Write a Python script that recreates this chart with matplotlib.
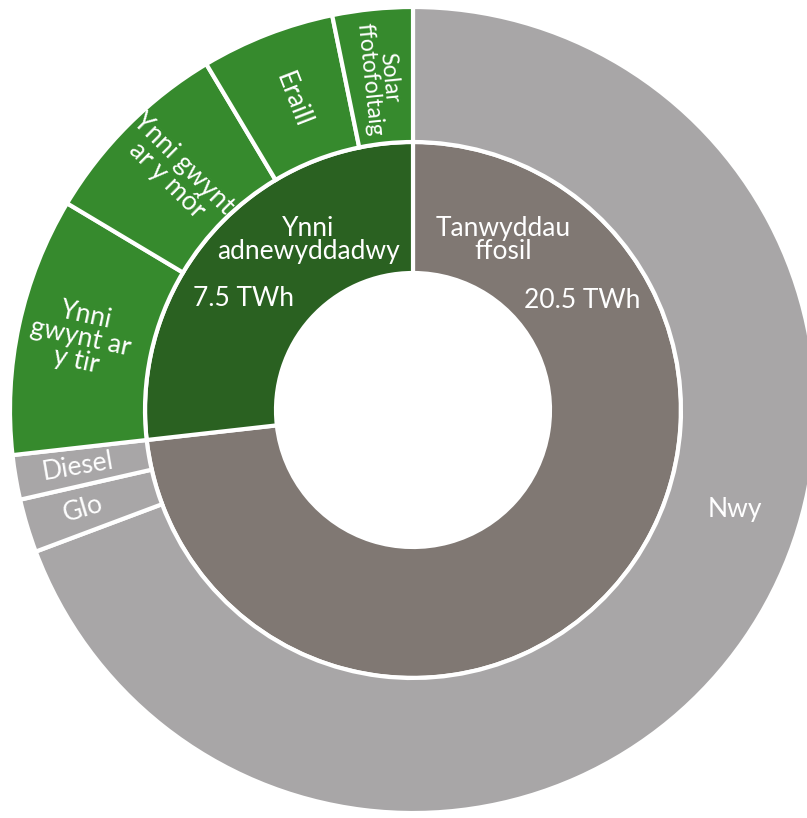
import matplotlib
matplotlib.use('Agg')
import matplotlib.pyplot as plt
import numpy as np

matplotlib.rcParams['font.family'] = ['Lato', 'DejaVu Sans']

# Inner ring: fossil vs renewable (TWh)
inner_labels = ['Tanwyddau\nffosil', 'Ynni\nadnewyddadwy']
inner_values = [20.5, 7.5]
inner_value_text = ['20.5 TWh', '7.5 TWh']

# Outer ring, clockwise from the top
outer_labels = ['Nwy', 'Glo', 'Diesel', 'Ynni\ngwynt ar\ny tir',
                'Ynni gwynt\nar y môr', 'Eraill', 'Solar\nffotofoltaig']
outer_values = [19.4, 0.6, 0.5, 2.9, 2.2, 1.5, 0.9]

inner_colors = ['#807873', '#2a6121']
outer_colors = ['#a8a6a7'] * 3 + ['#368a2d'] * 4

W, H = 807, 818
cx, cy = 413, 410  # centre in image pixels (y down)

fig = plt.figure(figsize=(W / 100, H / 100), dpi=100)
ax = fig.add_axes([0, 0, 1, 1])

edge = dict(edgecolor='white', linewidth=3)
ax.pie(inner_values, radius=268, colors=inner_colors, startangle=90,
       counterclock=False, wedgeprops=dict(width=131, **edge))
outer_wedges, _ = ax.pie(outer_values, radius=403, colors=outer_colors, startangle=90,
                         counterclock=False, wedgeprops=dict(width=135, **edge))

ax.set_xlim(-cx, W - cx)
ax.set_ylim(-(H - cy), cy)
ax.set_aspect('equal')
ax.axis('off')

fs = 19
txt = dict(color='white', ha='center', va='center', linespacing=0.92)

# inner ring labels
ax.text(90, 170, inner_labels[0], fontsize=fs, **txt)
ax.text(169, 110, inner_value_text[0], fontsize=fs, **txt)
ax.text(-105, 170, inner_labels[1], fontsize=fs, **txt)
ax.text(-170, 111, inner_value_text[1], fontsize=fs, **txt)

# outer ring labels, radial, reading inward
r_lab = [0, 345, 340, 340, 337, 333, 333]
f_lab = [fs, fs, fs, fs, fs, fs, 16.5]
for w, lab, r, f in zip(outer_wedges[1:], outer_labels[1:], r_lab[1:], f_lab[1:]):
    mid = (w.theta1 + w.theta2) / 2
    a = np.deg2rad(mid)
    ax.text(r * np.cos(a), r * np.sin(a), lab, rotation=mid - 180,
            rotation_mode='anchor', fontsize=f, **txt)

ax.text(322, -100, outer_labels[0], fontsize=fs, **txt)

fig.savefig('out.png', dpi=100, facecolor='white')
